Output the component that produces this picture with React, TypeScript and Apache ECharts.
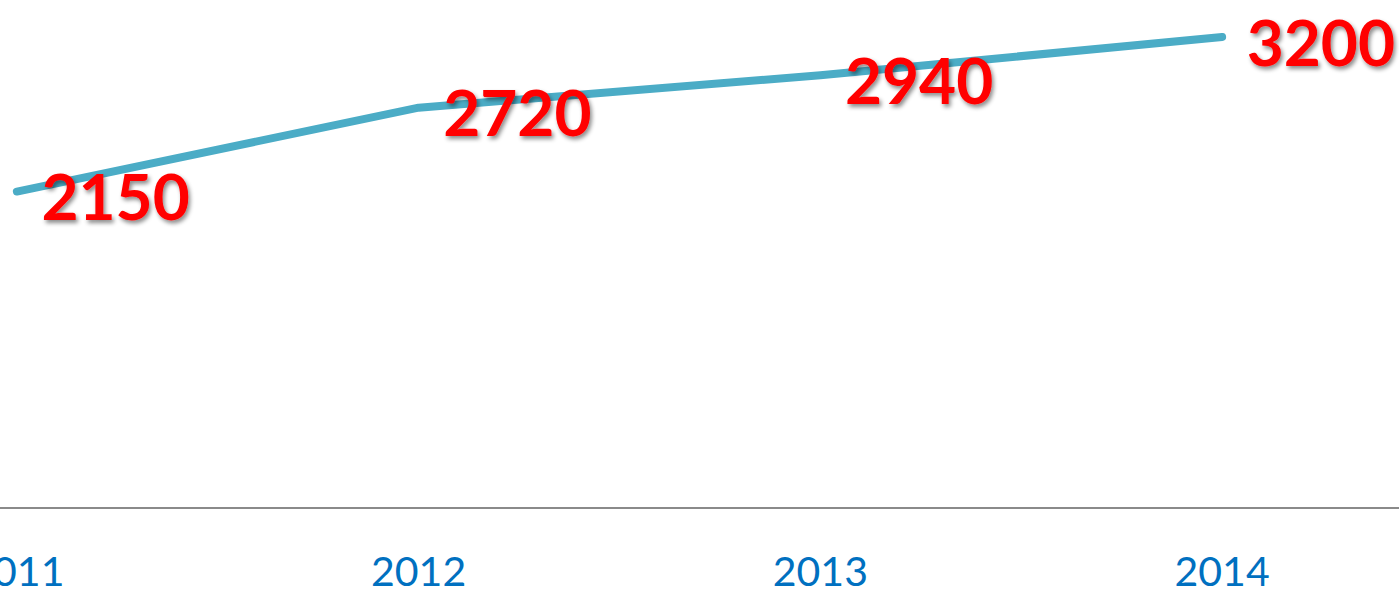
import React, { useEffect, useRef } from "react";
import * as echarts from "echarts";

const categories = ["2011", "2012", "2013", "2014"];
const values = [2150, 2720, 2940, 3200];

export default function App() {
  const ref = useRef<HTMLDivElement>(null);
  useEffect(() => {
    if (!ref.current) return;
    const chart = echarts.init(ref.current, undefined, { renderer: "svg" });
    chart.setOption({
      animation: false,
      backgroundColor: "#ffffff",
      grid: {
        left: -184,
        width: 1607,
        top: 37,
        bottom: 81,
        containLabel: false,
        outerBoundsMode: "none",
      },
      xAxis: {
        type: "category",
        data: categories,
        boundaryGap: true,
        axisLine: { show: true, lineStyle: { color: "#8a8a8a", width: 2 } },
        axisTick: { show: false },
        axisLabel: {
          color: "#0070C0",
          fontFamily: "Lato",
          fontSize: 41,
          lineHeight: 36,
          margin: 44,
          interval: 0,
          hideOverlap: false,
        },
      },
      yAxis: {
        type: "value",
        min: 0,
        max: 3200,
        show: false,
        splitLine: { show: false },
      },
      series: [
        {
          type: "line",
          data: values,
          symbol: "circle",
          symbolSize: 1,
          showSymbol: true,
          itemStyle: { color: "#4BACC6" },
          lineStyle: { color: "#4BACC6", width: 8, cap: "round", join: "round" },
          label: {
            show: true,
            position: "right",
            distance: 24,
            offset: [0, 4],
            color: "#FF0000",
            fontFamily: "Lato",
            fontWeight: "bold",
            fontSize: 64,
            textShadowColor: "rgba(0,0,0,0.45)",
            textShadowBlur: 4,
            textShadowOffsetX: 2,
            textShadowOffsetY: 3,
          },
        },
      ],
    });
    return () => chart.dispose();
  }, []);
  return (
    <div
      ref={ref}
      style={{ position: "fixed", left: 0, top: 0, width: 1399, height: 589, background: "#fff" }}
    />
  );
}
